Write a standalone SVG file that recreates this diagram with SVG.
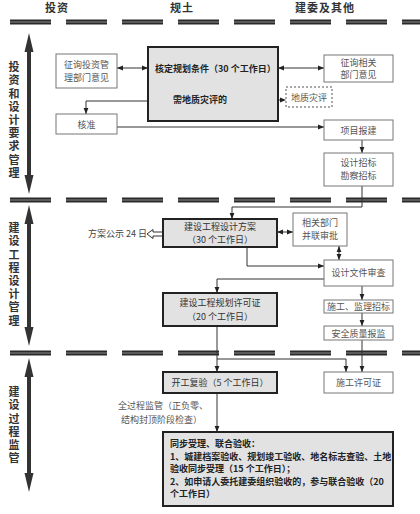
<svg xmlns="http://www.w3.org/2000/svg" width="420" height="514" viewBox="0 0 420 514">
<style>
text{font-family:"Noto Sans CJK SC","Noto Sans",sans-serif;}
.hd{font-size:11px;font-weight:bold;fill:#333;letter-spacing:1px}
.vl{font-size:11px;font-weight:bold;fill:#333;writing-mode:vertical-rl;letter-spacing:2.2px}
.bx{fill:#fff;stroke:#777;stroke-width:1}
.gb{fill:#e2e2e2;stroke:#222;stroke-width:2}
.t{font-size:9px;fill:#555;text-anchor:middle}
.tg{font-size:9px;fill:#333;text-anchor:middle}
.tb{font-size:9px;fill:#222;font-weight:bold}
.c{fill:none;stroke:#333;stroke-width:1}
.sep{stroke:#2a2a2a;stroke-width:5;stroke-dasharray:41 15}
.sepi{stroke:#8a8a8a;stroke-width:1;stroke-dasharray:41 15}
.va{fill:#333}
</style>
<defs>
<marker id="ah" viewBox="0 0 10 10" refX="10" refY="5" markerWidth="6" markerHeight="6" orient="auto-start-reverse" markerUnits="userSpaceOnUse">
<path d="M0,1 L10,5 L0,9 z" fill="#222"/>
</marker>
</defs>

<!-- header -->
<text class="hd" x="45" y="12">投资</text>
<text class="hd" x="170" y="12">规土</text>
<text class="hd" x="295" y="12">建委及其他</text>

<!-- separators -->
<g id="separators">
<line class="sep" x1="10" y1="22" x2="420" y2="22"/>
<line class="sepi" x1="10" y1="22" x2="420" y2="22"/>
<line class="sep" x1="10" y1="200" x2="420" y2="200"/>
<line class="sepi" x1="10" y1="200" x2="420" y2="200"/>
<line class="sep" x1="10" y1="353" x2="420" y2="353"/>
<line class="sepi" x1="10" y1="353" x2="420" y2="353"/>
</g>

<!-- left phase arrows -->
<g id="phase-arrows">
<polygon class="va" points="29,33 33.5,52 31,52 31,175 33.5,175 29,194 24.5,175 27,175 27,52 24.5,52"/>
<polygon class="va" points="29,205 33.5,224 31,224 31,327 33.5,327 29,346 24.5,327 27,327 27,224 24.5,224"/>
<polygon class="va" points="29,358 33.5,377 31,377 31,473 33.5,473 29,492 24.5,473 27,473 27,377 24.5,377"/>
</g>

<g id="phase-labels">
<text class="vl" x="14" y="61.5">投资和设计要求管理</text>
<text class="vl" x="14" y="222.5">建设工程设计管理</text>
<text class="vl" x="14" y="386.5">建设过程监管</text>
</g>

<!-- connectors -->
<g id="connectors">
<path class="c" d="M117,68 H148" marker-start="url(#ah)" marker-end="url(#ah)"/>
<path class="c" d="M278,68 H324" marker-start="url(#ah)" marker-end="url(#ah)"/>
<path class="c" d="M242,100 H286" stroke-dasharray="2 2" marker-start="url(#ah)" marker-end="url(#ah)"/>
<path class="c" d="M148,101 H86 V114" marker-end="url(#ah)"/>
<path class="c" d="M117,127 H324" marker-end="url(#ah)"/>
<path class="c" d="M362,140 V153" marker-end="url(#ah)"/>
<path class="c" d="M362,186 V207 H232 V219" marker-end="url(#ah)"/>
<path class="c" d="M277,232 H293" marker-start="url(#ah)" marker-end="url(#ah)"/>
<path class="c" d="M339,246 V260" marker-start="url(#ah)" marker-end="url(#ah)"/>
<path class="c" d="M247,247 V266 H324" marker-end="url(#ah)"/>
<path class="c" d="M324,279 H217 V293" marker-end="url(#ah)"/>
<path class="c" d="M362,286 V300" marker-end="url(#ah)"/>
<path class="c" d="M362,313 V326" marker-end="url(#ah)"/>
<path class="c" d="M362,340 V372" marker-end="url(#ah)"/>
<path class="c" d="M217,326 V372" marker-end="url(#ah)"/>
<path class="c" d="M217,359 H346 V372" marker-end="url(#ah)"/>
<path class="c" d="M217,393 V432" marker-end="url(#ah)"/>
<polygon points="163,232 153,232 153,229.5 147,234 153,238.5 153,236 163,236" fill="#fff" stroke="#333" stroke-width="1"/>
</g>

<!-- nodes -->
<g id="n-zhengxun-touzi">
<rect class="bx" x="56" y="54" width="61" height="34"/>
<text class="t" x="86.5" y="68">征询投资管</text>
<text class="t" x="86.5" y="81">理部门意见</text>
</g>

<g id="n-hedingguihua">
<rect class="gb" x="148" y="47" width="130" height="74"/>
<text class="tb" x="155" y="72">核定规划条件（30 个工作日）</text>
<text class="tb" x="173" y="103">需地质灾评的</text>
</g>

<g id="n-zhengxun-xiangguan">
<rect class="bx" x="324" y="55" width="69" height="27"/>
<text class="t" x="358.5" y="66">征询相关</text>
<text class="t" x="358.5" y="78">部门意见</text>
</g>

<g id="n-dizhizaiping">
<rect x="286" y="87" width="46" height="20" fill="#fff" stroke="#555" stroke-width="1" stroke-dasharray="2 2"/>
<text class="t" x="309" y="100.5">地质灾评</text>
</g>

<g id="n-hezhun">
<rect class="bx" x="56" y="114" width="61" height="20"/>
<text class="t" x="86.5" y="127.5">核准</text>
</g>

<g id="n-xiangmubaojian">
<rect class="bx" x="324" y="120" width="69" height="20"/>
<text class="t" x="358.5" y="133.5">项目报建</text>
</g>

<g id="n-shejizhaobiao">
<rect class="bx" x="324" y="153" width="69" height="33"/>
<text class="t" x="358.5" y="166">设计招标</text>
<text class="t" x="358.5" y="179">勘察招标</text>
</g>

<g id="n-shejifangan">
<rect class="gb" x="163" y="219" width="114" height="28"/>
<text class="tg" x="220" y="230">建设工程设计方案</text>
<text class="tg" x="220" y="243">（30 个工作日）</text>
</g>

<g id="n-fanganggongshi">
<text x="88" y="237" font-size="9" fill="#444">方案公示 24 日</text>
</g>

<g id="n-xiangguanbumen">
<rect class="bx" x="293" y="213" width="54" height="33"/>
<text class="t" x="320" y="226">相关部门</text>
<text class="t" x="320" y="239">并联审批</text>
</g>

<g id="n-shejiwenjian">
<rect class="bx" x="324" y="260" width="69" height="26"/>
<text class="t" x="358.5" y="276">设计文件审查</text>
</g>

<g id="n-guihuaxuke">
<rect class="gb" x="163" y="293" width="114" height="33"/>
<text class="tg" x="220" y="306">建设工程规划许可证</text>
<text class="tg" x="220" y="320">（20 个工作日）</text>
</g>

<g id="n-shigongjianli">
<rect class="bx" x="324" y="300" width="69" height="13"/>
<text class="t" x="358.5" y="310">施工、监理招标</text>
</g>

<g id="n-anquanzhiliang">
<rect class="bx" x="324" y="326" width="69" height="14"/>
<text class="t" x="358.5" y="336.5">安全质量报监</text>
</g>

<g id="n-shigongxuke">
<rect class="bx" x="324" y="372" width="69" height="21"/>
<text class="t" x="358.5" y="385.5">施工许可证</text>
</g>

<g id="n-kaigongfuyan">
<rect class="gb" x="163" y="372" width="114" height="21"/>
<text class="tg" x="220" y="385.5">开工复验（5 个工作日）</text>
</g>

<g id="n-quanguocheng">
<text x="118" y="409" font-size="9" fill="#555">全过程监管（正负零、</text>
<text x="121" y="423" font-size="9" fill="#555">结构封顶阶段检查）</text>
</g>

<g id="n-lianheyanshou">
<rect class="gb" x="163" y="432" width="230" height="74"/>
<text class="tb" x="170" y="447">同步受理、联合验收：</text>
<text class="tb" x="170" y="459.5">1、城建档案验收、规划竣工验收、地名标志查验、土地</text>
<text class="tb" x="170" y="472">验收同步受理（15 个工作日）；</text>
<text class="tb" x="170" y="484.5">2、如申请人委托建委组织验收的，参与联合验收（20</text>
<text class="tb" x="170" y="497">个工作日）</text>
</g>
</svg>
